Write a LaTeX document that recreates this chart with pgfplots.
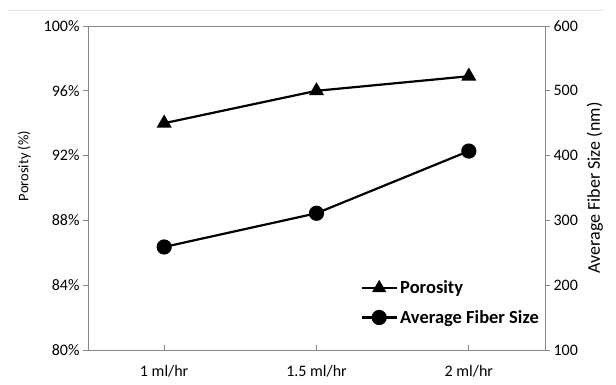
\documentclass[border=0pt]{standalone}
\usepackage{pgfplots}
\pgfplotsset{compat=1.18}
\usepackage{fontspec}
\setmainfont{Carlito}
\definecolor{axgray}{HTML}{868686}
\begin{document}
\begin{tikzpicture}
\path[use as bounding box] (-88pt,-35pt) rectangle (528pt,350pt);
\draw[black!10, line width=0.8pt] (-80pt,340pt) -- (515pt,340pt);
\pgfplotsset{
  myax/.style={
    scale only axis, width=457pt, height=324pt,
    at={(0,0)}, anchor=south west,
    font=\fontsize{16}{18}\selectfont,
    /pgf/number format/assume math mode=true,
    xmin=-0.5, xmax=2.5,
    axis line style={axgray, line width=0.9pt},
    tick style={axgray, line width=0.9pt},
    major tick length=5pt,
    tick label style={black, font=\fontsize{16}{18}\selectfont},
  }
}
\begin{axis}[myax,
  axis y line*=left, axis x line*=bottom,
  xtick={0,1,2}, xticklabels={1 ml/hr,1.5 ml/hr,2 ml/hr},
  x tick label style={yshift=-12pt},
  xtick align=inside,
  ymin=80, ymax=100, ytick={80,84,88,92,96,100},
  yticklabel={\pgfmathprintnumber{\tick}\%},
  ytick align=outside,
  ylabel={Porosity (\%)},
  ylabel style={font=\fontsize{14.5}{16}\selectfont, yshift=6pt, xshift=22pt},
]
\draw[axgray, line width=0.9pt] (axis cs:-0.5,100) -- (axis cs:2.5,100);
\addplot[black, line width=2.2pt, mark=triangle*, mark size=6.5pt, mark options={solid}] coordinates {(0,94) (1,96) (2,96.9)};
\end{axis}
\begin{axis}[myax,
  axis y line*=right, axis x line=none,
  ymin=100, ymax=600, ytick={100,200,...,600},
  ytick align=outside,
  ylabel={Average Fiber Size (nm)},
  ylabel style={font=\fontsize{18}{20}\selectfont, yshift=-2pt},
  legend style={draw=none, fill=none, at={(0.998,0.065)}, anchor=south east,
    font=\fontsize{18.5}{20}\selectfont\bfseries, row sep=11pt,
    /tikz/every even column/.append style={column sep=0pt}},
  legend cell align=left,
  legend image code/.code={
    \draw[#1] (0cm,0cm) -- (1.25cm,0cm);
    \draw[#1] plot coordinates {(0.62cm,0cm)};
  },
]
\addlegendimage{black, line width=2.2pt, mark=triangle*, mark size=6pt}
\addlegendentry{Porosity}
\addplot[black, line width=2.2pt, mark=*, mark size=6.5pt] coordinates {(0,259) (1,311) (2,407)};
\addlegendentry{Average Fiber Size}
\end{axis}
\end{tikzpicture}
\end{document}
